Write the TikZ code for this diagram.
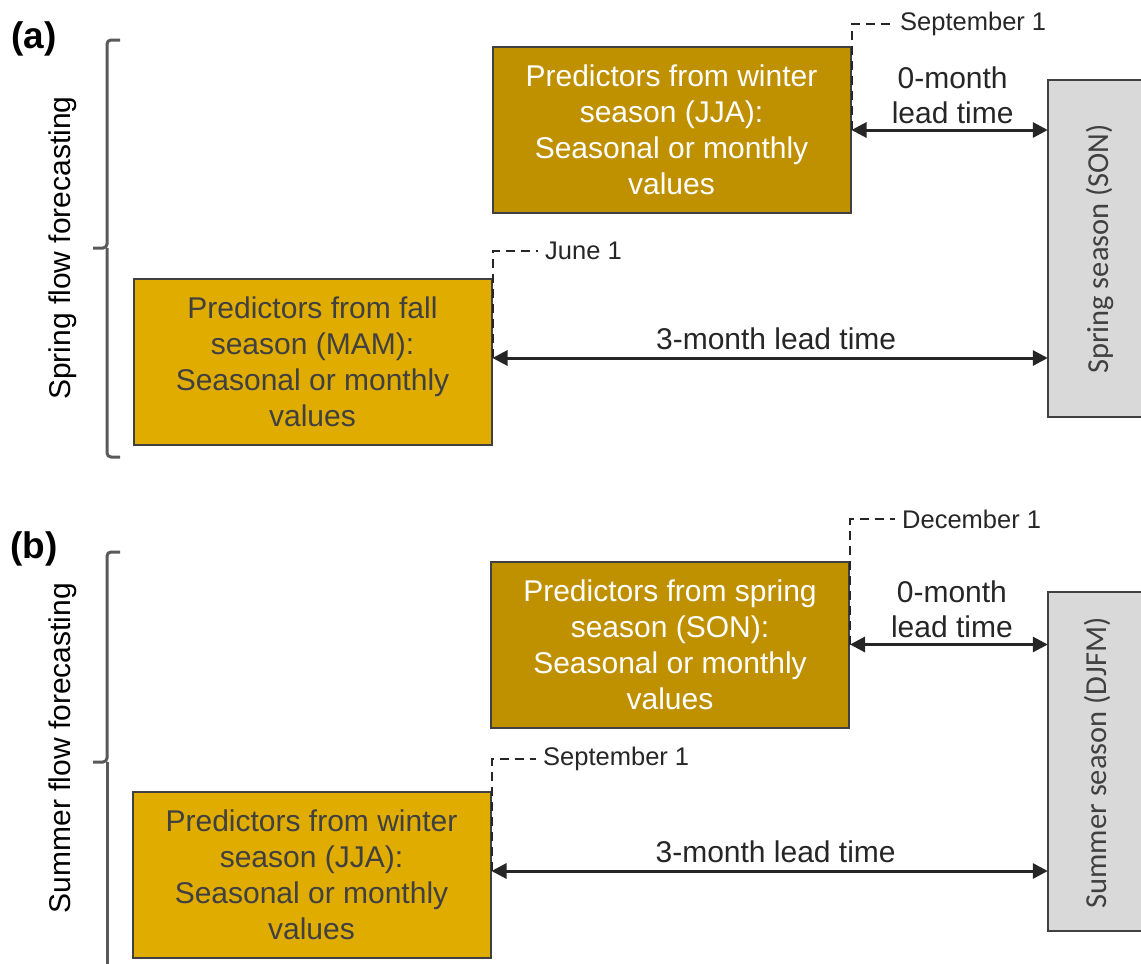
\documentclass[tikz,border=0pt]{standalone}
\usepackage{fontspec}
\setmainfont{Liberation Sans}
\newfontfamily\calfont{Carlito}
\usetikzlibrary{arrows.meta}
\definecolor{darkgold}{HTML}{BF9000}
\definecolor{lightgold}{HTML}{E0AC00}
\definecolor{greyfill}{HTML}{D9D9D9}
\definecolor{edgegrey}{HTML}{404040}
\definecolor{txtgrey}{HTML}{404040}
\definecolor{ink}{HTML}{262626}
\definecolor{bracegrey}{HTML}{595959}
\begin{document}
\begin{tikzpicture}[x=1pt,y=-1pt,
  predbox/.style={draw=edgegrey, line width=2pt, minimum width=358pt, minimum height=166pt,
    inner sep=0pt, align=center, font=\fontsize{30}{36}\selectfont},
  darkbox/.style={predbox, fill=darkgold, text=white},
  lightbox/.style={predbox, fill=lightgold, text=txtgrey},
  seasonbox/.style={fill=greyfill, inner sep=0pt, minimum width=93pt},
  seasonedge/.style={draw=edgegrey, line width=2pt},
  seasontext/.style={rotate=90, text=txtgrey, font=\calfont\fontsize{30.5}{36}\selectfont, inner sep=0pt},
  leadarrow/.style={draw=ink, line width=3pt, {Triangle[length=15pt,width=15pt]}-{Triangle[length=15pt,width=15pt]}},
  leadlabel/.style={text=ink, align=center, inner sep=0pt, font=\fontsize{30}{35}\selectfont},
  datedash/.style={draw=ink, line width=2pt, dash pattern=on 9pt off 6pt},
  datelabel/.style={anchor=west, text=ink, inner xsep=7pt, inner ysep=2pt, font=\fontsize{25.5}{30}\selectfont},
  bracestyle/.style={draw=bracegrey, line width=3pt, rounded corners=4pt},
  sidelabel/.style={rotate=90, text=black, font=\fontsize{30}{36}\selectfont},
  panellabel/.style={text=black, font=\bfseries\fontsize{37}{40}\selectfont}
]
\useasboundingbox (0,0) rectangle (1141,964);

% ---------------- Panel (a) ----------------
\node[panellabel] (pa) at (34,39) {(a)};
\draw[bracestyle] (120,40) -- (107,40) -- (107,248) -- (93,248);
\draw[bracestyle] (107,248) -- (107,457) -- (120,457);
\node[sidelabel] (sideA) at (63,248) {Spring flow forecasting};

\node[darkbox] (darkA) at (671.5,130) {Predictors from winter\\season (JJA):\\Seasonal or monthly\\values};
\node[lightbox] (lightA) at (312.5,362) {Predictors from fall\\season (MAM):\\Seasonal or monthly\\values};

\node[seasonbox, minimum height=337pt] (sonA) at (1094.5,248.5) {};
\draw[seasonedge] (sonA.north east) -- (sonA.north west) -- (sonA.south west) -- (sonA.south east);
\node[seasontext] (sonAtext) at (1100,249) {Spring season (SON)};

\node[datelabel] (sepA) at (893,24) {September 1};
\node[datelabel] (juneA) at (538,251) {June 1};
\draw[datedash] (darkA.east) -- (darkA.north east) |- (sepA.west);
\draw[datedash] ([yshift=4pt]lightA.east) -- (lightA.north east) |- (juneA.west);

\draw[leadarrow] (darkA.east) -- (darkA.east -| sonA.west)
  node[leadlabel, midway, above=5pt, xshift=3pt] (zeroA) {0-month\\lead time};
\draw[leadarrow] ([yshift=4pt]lightA.east) -- ([yshift=4pt]lightA.east -| sonA.west)
  node[leadlabel, midway, above=7pt, xshift=6pt] (threeA) {3-month lead time};

% ---------------- Panel (b) ----------------
\node[panellabel] (pb) at (34,549) {(b)};
\draw[bracestyle] (120,552) -- (107,552) -- (107,762) -- (93,762);
\draw[bracestyle] (107,762) -- (107,975);
\node[sidelabel] (sideB) at (63,748) {Summer flow forecasting};

\node[darkbox] (darkB) at (670,644.5) {Predictors from spring\\season (SON):\\Seasonal or monthly\\values};
\node[lightbox] (lightB) at (311.5,874.5) {Predictors from winter\\season (JJA):\\Seasonal or monthly\\values};

\node[seasonbox, minimum height=339pt] (djfmB) at (1094.5,761.5) {};
\draw[seasonedge] (djfmB.north east) -- (djfmB.north west) -- (djfmB.south west) -- (djfmB.south east);
\node[seasontext] (djfmBtext) at (1097,763) {Summer season (DJFM)};

\node[datelabel] (decB) at (895,519) {December 1};
\node[datelabel] (sepB) at (536,759) {September 1};
\draw[datedash] (darkB.east) -- (darkB.north east) |- (decB.west);
\draw[datedash] ([yshift=3.5pt]lightB.east) -- (lightB.north east) |- (sepB.west);

\draw[leadarrow] (darkB.east) -- (darkB.east -| djfmB.west)
  node[leadlabel, midway, above=5pt, xshift=3pt] (zeroB) {0-month\\lead time};
\draw[leadarrow] ([yshift=3.5pt]lightB.east) -- ([yshift=3.5pt]lightB.east -| djfmB.west)
  node[leadlabel, midway, above=7pt, xshift=6pt] (threeB) {3-month lead time};
\end{tikzpicture}
\end{document}
